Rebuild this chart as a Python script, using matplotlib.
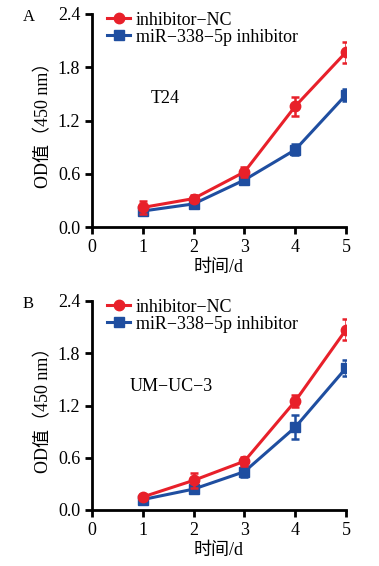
import matplotlib
matplotlib.use('Agg')
import matplotlib.pyplot as plt
import numpy as np

plt.rcParams['font.family'] = ['Liberation Serif', 'Noto Sans CJK SC']

days = [1, 2, 3, 4, 5]
xticks = [0, 1, 2, 3, 4, 5]
yticks = [0.0, 0.6, 1.2, 1.8, 2.4]
labels = ['inhibitor\u2212NC', 'miR\u2212338\u22125p inhibitor']

# panel A (T24)
t24_nc = [0.22, 0.32, 0.62, 1.36, 1.97]
t24_nc_err = [0.07, 0.04, 0.06, 0.11, 0.12]
t24_inh = [0.18, 0.26, 0.53, 0.87, 1.49]
t24_inh_err = [0.03, 0.03, 0.03, 0.06, 0.07]

# panel B (UM-UC-3)
um_nc = [0.15, 0.34, 0.56, 1.25, 2.07]
um_nc_err = [0.03, 0.085, 0.05, 0.07, 0.12]
um_inh = [0.12, 0.24, 0.44, 0.95, 1.63]
um_inh_err = [0.02, 0.03, 0.06, 0.14, 0.09]

red = '#e8202a'
blue = '#1f4ea0'

fig = plt.figure(figsize=(3.79, 5.66), dpi=100)
axA = fig.add_axes([92/379, 1-227/566, 254/379, 213/566])
axB = fig.add_axes([92/379, 1-510/566, 254/379, 209/566])

def panel(ax, nc, nc_err, inh, inh_err, letter, cell, cx, cy):
    ax.errorbar(days, nc, yerr=nc_err, color=red, marker='o', ms=7.5, lw=2.2,
                capsize=3, capthick=1.8, elinewidth=1.8, label=labels[0], zorder=3)
    ax.errorbar(days, inh, yerr=inh_err, color=blue, marker='s', ms=7, lw=2.2,
                capsize=3, capthick=1.8, elinewidth=1.8, label=labels[1], zorder=2)
    ax.set_xlim(0, 5)
    ax.set_ylim(0, 2.4)
    ax.set_xticks(xticks)
    ax.set_yticks(yticks)
    ax.set_yticklabels(['%.1f' % v for v in yticks])
    for s in ['top', 'right']:
        ax.spines[s].set_visible(False)
    for s in ['left', 'bottom']:
        ax.spines[s].set_linewidth(2)
    ax.tick_params(width=2, length=5, labelsize=13, direction='out')
    ax.set_xlabel('时间/d', fontsize=13, labelpad=2)
    ax.set_ylabel('OD值（450 nm）', fontsize=13, labelpad=4)
    ax.text(cx, cy, cell, fontsize=13, ha='center', va='center')
    ax.text(-0.25, 0.985, letter, transform=ax.transAxes, fontsize=12, ha='center', va='center')
    h, l = ax.get_legend_handles_labels()
    h = [x[0] for x in h]
    ax.legend(h, l, loc='upper left', bbox_to_anchor=(0.03, 1.045), frameon=False,
              fontsize=13, handlelength=1.3, handletextpad=0.3, labelspacing=0.0,
              borderaxespad=0)

panel(axA, t24_nc, t24_nc_err, t24_inh, t24_inh_err, 'A', 'T24', 1.45, 1.45)
panel(axB, um_nc, um_nc_err, um_inh, um_inh_err, 'B', 'UM\u2212UC\u22123', 1.57, 1.42)

fig.savefig('out.png', dpi=100)
